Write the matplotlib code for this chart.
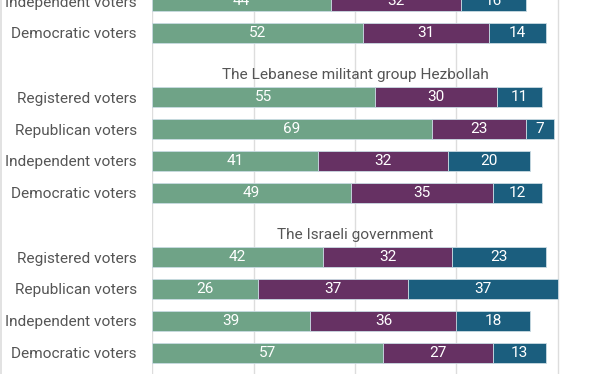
import matplotlib
matplotlib.use("Agg")
import matplotlib.pyplot as plt
from matplotlib.lines import Line2D

plt.rcParams['font.family'] = ['Roboto', 'DejaVu Sans']

# row positions (row units, top to bottom); titles sit on their own rows
groups = ["", "The Lebanese militant group Hezbollah", "The Israeli government"]
title_rows = [None, 2, 7]

row_labels = ["Independent voters", "Democratic voters",
              "Registered voters", "Republican voters", "Independent voters", "Democratic voters",
              "Registered voters", "Republican voters", "Independent voters", "Democratic voters"]
row_pos = [0, 1, 3, 4, 5, 6, 8, 9, 10, 11]

seg1 = [44, 52, 55, 69, 41, 49, 42, 26, 39, 57]
seg2 = [32, 31, 30, 23, 32, 35, 32, 37, 36, 27]
seg3 = [16, 14, 11, 7, 20, 12, 23, 37, 18, 13]

colors = ["#6fa387", "#663163", "#1b5e7e"]
fs = 11.1

fig = plt.figure(figsize=(6.12, 3.74), dpi=100)
ax = fig.add_axes([152 / 612, 0, 1 - 152 / 612, 1])

# grid
for g in [0, 25, 50, 75, 100]:
    ax.axvline(g, color="#dddddd", lw=1, zorder=0)

left = [0] * len(seg1)
for vals, c in zip([seg1, seg2, seg3], colors):
    ax.barh(row_pos, vals, left=left, height=0.62, color=c,
            edgecolor="#c9dbe3", linewidth=0.6, zorder=2)
    for y, v, l in zip(row_pos, vals, left):
        ax.text(l + v / 2, y, str(v), ha="center", va="center",
                color="white", fontsize=fs, zorder=3)
    left = [l + v for l, v in zip(left, vals)]

for t, r in zip(groups, title_rows):
    if r is not None:
        ax.text(50, r + 0.3, t, ha="center", va="center",
                color="#555555", fontsize=fs, zorder=3)

ax.set_yticks(row_pos)
ax.set_yticklabels(row_labels, color="#555555", fontsize=fs)
ax.tick_params(axis="y", length=0, pad=11)
ax.set_xticks([])
for s in ax.spines.values():
    s.set_visible(False)

ax.set_xlim(0, (612 - 152) / 4.06)
ax.set_ylim(373 / 32, -1 / 32)

fig.add_artist(Line2D([0.001, 0.001], [0, 1], color="#dddddd", lw=1.2))

fig.savefig("out.png", dpi=100)
